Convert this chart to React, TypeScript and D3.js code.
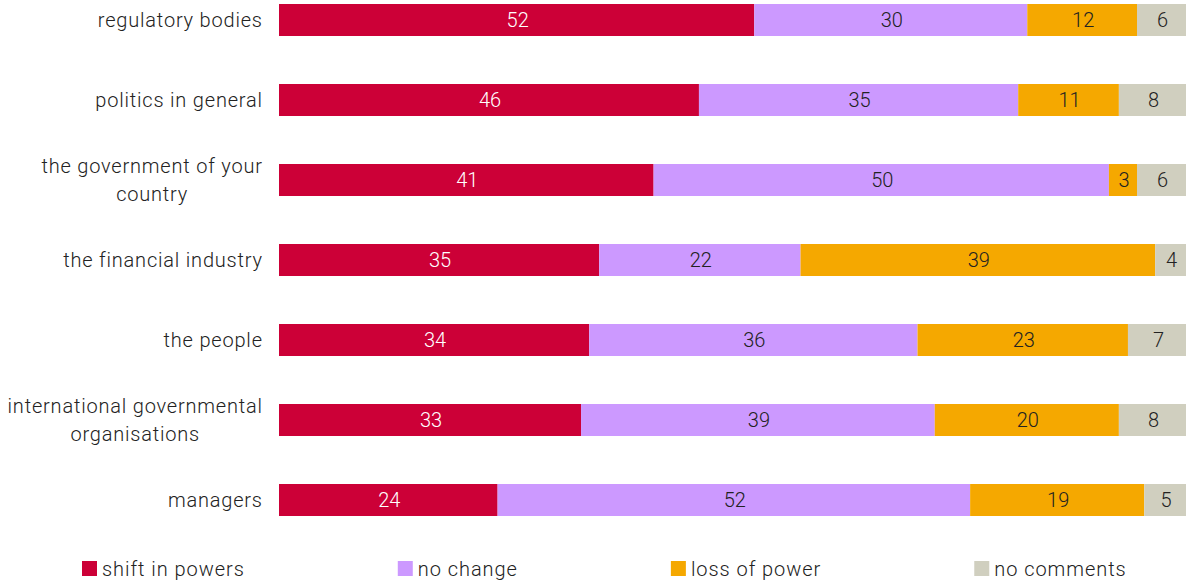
import React, { useEffect, useRef } from "react";
import * as d3 from "d3";

const categories = [
  "regulatory bodies",
  "politics in general",
  "the government of your\ncountry",
  "the financial industry",
  "the people",
  "international governmental\norganisations",
  "managers",
];

const seriesNames = ["shift in powers", "no change", "loss of power", "no comments"];
const seriesColors = ["#cc0037", "#cc99ff", "#f5a800", "#d0cfbf"];
const seriesTextColors = ["#ffffff", "#222222", "#222222", "#222222"];

// Bar lengths
const shiftValues = [52.4, 46.3, 41.3, 35.3, 34.2, 33.3, 24.1];
const noChangeValues = [30.1, 35.2, 50.2, 22.2, 36.2, 39.0, 52.1];
const lossValues = [12.1, 11.1, 3.1, 39.1, 23.2, 20.3, 19.2];
const noCommentValues = [5.4, 7.4, 5.4, 3.4, 6.5, 7.4, 4.6];

// Printed labels
const shiftLabels = [52, 46, 41, 35, 34, 33, 24];
const noChangeLabels = [30, 35, 50, 22, 36, 39, 52];
const lossLabels = [12, 11, 3, 39, 23, 20, 19];
const noCommentLabels = [6, 8, 6, 4, 7, 8, 5];

const W = 1186;
const H = 583;
const FONT = "Roboto, 'Noto Sans', sans-serif";
const LS = 0.8;
const LEG_LS = 0.95;

export default function App() {
  const ref = useRef<SVGSVGElement | null>(null);

  useEffect(() => {
    const svg = d3.select(ref.current);
    svg.selectAll("*").remove();

    const values = [shiftValues, noChangeValues, lossValues, noCommentValues];
    const labels = [shiftLabels, noChangeLabels, lossLabels, noCommentLabels];

    const x = d3.scaleLinear().domain([0, 100]).range([279, 1186]);
    const y = d3
      .scaleBand<string>()
      .domain(categories)
      .range([-20, 540])
      .paddingInner(0.6)
      .paddingOuter(0.3);

    const g = svg.append("g");

    categories.forEach((cat, i) => {
      let acc = 0;
      const y0 = y(cat)!;
      const bh = y.bandwidth();
      values.forEach((vals, s) => {
        const v = vals[i];
        const x0 = x(acc);
        const x1 = x(acc + v);
        acc += v;
        g.append("rect")
          .attr("x", x0)
          .attr("y", y0)
          .attr("width", x1 - x0)
          .attr("height", bh)
          .attr("fill", seriesColors[s]);
        g.append("text")
          .attr("x", (x0 + x1) / 2 + 1)
          .attr("y", y0 + bh / 2)
          .attr("dy", "0.35em")
          .attr("text-anchor", "middle")
          .attr("font-family", FONT)
          .attr("font-weight", 300)
          .attr("font-size", 20)
          .attr("fill", seriesTextColors[s])
          .text(String(labels[s][i]));
      });

      // category label
      const lines = cat.split("\n");
      const t = g
        .append("text")
        .attr("font-family", FONT)
        .attr("font-weight", 300)
        .attr("font-size", 20)
        .attr("letter-spacing", `${LS}px`)
        .attr("fill", "#222222")
        .attr("text-anchor", "middle");
      const lh = 28;
      const cy = y0 + bh / 2;
      const tspans = lines.map((ln, k) =>
        t
          .append("tspan")
          .attr("y", cy + (k - (lines.length - 1) / 2) * lh)
          .attr("dy", "0.35em")
          .text(ln)
      );
      let maxW = 0;
      tspans.forEach((ts) => {
        const n = ts.node() as SVGTSpanElement;
        maxW = Math.max(maxW, n.getComputedTextLength());
      });
      tspans.forEach((ts) => ts.attr("x", 262 + LS - maxW / 2));
    });

    // legend
    const legend = svg.append("g");
    let lx = 82;
    const ly = 561;
    seriesNames.forEach((name, s) => {
      legend
        .append("rect")
        .attr("x", lx)
        .attr("y", ly)
        .attr("width", 15)
        .attr("height", 15)
        .attr("fill", seriesColors[s]);
      const t = legend
        .append("text")
        .attr("x", lx + 20)
        .attr("y", ly + 15)
        .attr("font-family", FONT)
        .attr("font-weight", 300)
        .attr("font-size", 20)
        .attr("letter-spacing", `${LEG_LS}px`)
        .attr("fill", "#222222")
        .text(name);
      const w = (t.node() as SVGTextElement).getComputedTextLength();
      lx = lx + 20 + w + 153;
    });
  }, []);

  return (
    <svg
      ref={ref}
      width={W}
      height={H}
      style={{ position: "absolute", left: 0, top: 0, background: "#ffffff" }}
    />
  );
}
